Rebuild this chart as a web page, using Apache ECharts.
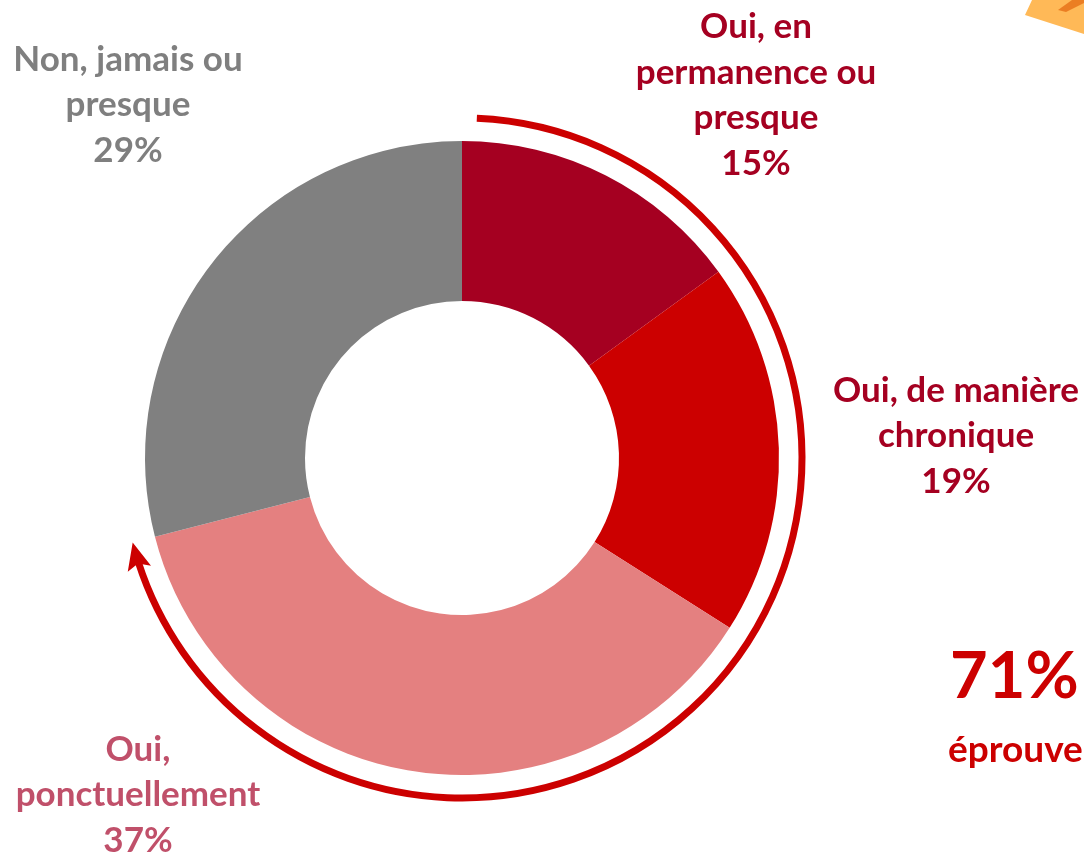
<!DOCTYPE html>
<html>
<head>
<meta charset="utf-8">
<script src="https://cdn.jsdelivr.net/npm/echarts@6/dist/echarts.min.js"></script>
<style>
  html, body { margin: 0; padding: 0; background: #ffffff; }
  #chart { width: 1084px; height: 853px; }
</style>
</head>
<body>
<div id="chart"></div>
<script>
// Answer categories (clockwise from the top) and their shares in %
const categories = [
  'Oui, en\npermanence ou\npresque',
  'Oui, de manière\nchronique',
  'Oui,\nponctuellement',
  'Non, jamais ou\npresque'
];
const values = [15, 19, 37, 29];
const sliceColors = ['#A50021', '#CC0000', '#E48080', '#808080'];
const labelColors = ['#A50021', '#A50021', '#C0506A', '#7F7F7F'];
// The "yes" answers grouped by the arrow
const yesCount = 3;

// Layout (pixels)
const CX = 462, CY = 458;
const R_IN = 157, R_OUT = 317;
const ARC_R = 340;
const labelCenters = [[756, 95], [956, 436], [138, 795], [128, 105]];

const FONT = 'Lato, "Open Sans", sans-serif';

const total = values.reduce((a, b) => a + b, 0);
const yesShare = values.slice(0, yesCount).reduce((a, b) => a + b, 0);
const yesPct = Math.round(yesShare / total * 100);

// angle measured clockwise from 12 o'clock, in degrees -> zrender radians
const toRad = deg => (deg - 90) * Math.PI / 180;
const tipDeg = yesShare / total * 360;
const headLen = 27, headHalf = 12;
const tipT = tipDeg * Math.PI / 180;
const tip = [CX + ARC_R * Math.sin(tipT), CY - ARC_R * Math.cos(tipT)];
const tang = [Math.cos(tipT), Math.sin(tipT)];     // clockwise direction
const norm = [Math.sin(tipT), -Math.cos(tipT)];    // outward
const base = [tip[0] - headLen * tang[0], tip[1] - headLen * tang[1]];
const notch = [tip[0] - headLen * 0.8 * tang[0], tip[1] - headLen * 0.8 * tang[1]];
const head = [
  tip,
  [base[0] + headHalf * norm[0], base[1] + headHalf * norm[1]],
  notch,
  [base[0] - headHalf * norm[0], base[1] - headHalf * norm[1]]
];
const arcEndDeg = tipDeg - (headLen * 0.75) / ARC_R * 180 / Math.PI;

const chart = echarts.init(document.getElementById('chart'), null, { renderer: 'canvas' });

chart.setOption({
  backgroundColor: '#ffffff',
  animation: false,
  series: [{
    type: 'pie',
    center: [CX, CY],
    radius: [R_IN, R_OUT],
    startAngle: 90,
    clockwise: true,
    avoidLabelOverlap: false,
    silent: true,
    itemStyle: { borderWidth: 0 },
    label: {
      show: true,
      formatter: '{b}\n{c}%',
      fontFamily: FONT,
      fontWeight: 'bold',
      fontSize: 35,
      lineHeight: 45.5,
      align: 'center'
    },
    labelLine: { show: false },
    labelLayout: function (params) {
      const p = labelCenters[params.dataIndex];
      return { x: p[0], y: p[1], align: 'center', verticalAlign: 'middle' };
    },
    data: categories.map((name, i) => ({
      name: name,
      value: values[i],
      itemStyle: { color: sliceColors[i] },
      label: { color: labelColors[i] }
    }))
  }],
  graphic: [
    // arrow around the "yes" answers
    {
      type: 'arc',
      shape: { cx: CX, cy: CY, r: ARC_R, startAngle: toRad(2.5), endAngle: toRad(arcEndDeg), clockwise: true },
      style: { stroke: '#CC0000', lineWidth: 7, fill: null },
      silent: true
    },
    {
      type: 'polygon',
      shape: { points: head },
      style: { fill: '#CC0000' },
      silent: true
    },
    // total of the "yes" answers
    {
      type: 'text',
      left: 950, top: 645,
      style: { text: yesPct + '%', font: 'bold 65px ' + FONT, fill: '#CC0000' },
      silent: true
    },
    {
      type: 'text',
      left: 948, top: 732,
      style: { text: 'éprouvent', font: 'bold 37px ' + FONT, fill: '#CC0000' },
      silent: true
    },
    // corner decoration
    {
      type: 'polygon',
      shape: { points: [[1025, 15], [1032, 0], [1084, 0], [1084, 34]] },
      style: { fill: '#FFB957' },
      silent: true
    },
    {
      type: 'polygon',
      shape: { points: [[1058, 10], [1072, 0], [1084, 0], [1084, 3], [1066, 12]] },
      style: { fill: '#E8731A', opacity: 0.85 },
      silent: true
    }
  ]
});
</script>
</body>
</html>
